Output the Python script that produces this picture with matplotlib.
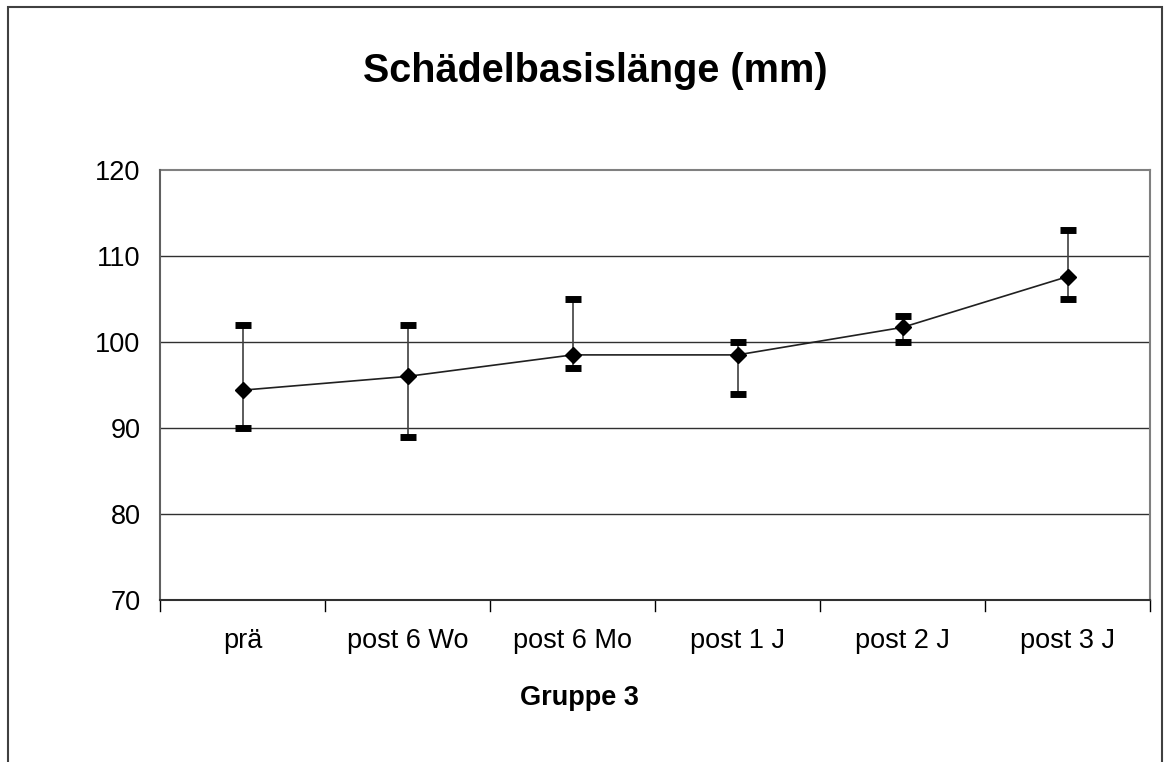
import matplotlib.pyplot as plt
from matplotlib.patches import Rectangle

categories = ["prä", "post 6 Wo", "post 6 Mo", "post 1 J", "post 2 J", "post 3 J"]
mean_vals = [94.4, 96.0, 98.5, 98.5, 101.7, 107.6]
min_vals = [90, 89, 97, 94, 100, 105]
max_vals = [102, 102, 105, 100, 103, 113]

plt.rcParams['font.family'] = ['Liberation Sans', 'DejaVu Sans']

W, H = 1170, 762
fig = plt.figure(figsize=(W / 100, H / 100), dpi=100)
fig.patch.set_facecolor("white")

# outer chart frame
fig.patches.append(Rectangle((8 / W, -0.05), (1162 - 8) / W, 1.05 - 7 / H,
                             transform=fig.transFigure, fill=False,
                             edgecolor="#404040", linewidth=1.5))

ax = fig.add_axes([160 / W, 1 - 600 / H, (1150 - 160) / W, (600 - 170) / H])

x = list(range(len(categories)))
lower = [m - lo for m, lo in zip(mean_vals, min_vals)]
upper = [hi - m for m, hi in zip(mean_vals, max_vals)]

ax.errorbar(x, mean_vals, yerr=[lower, upper], fmt="none", ecolor="#404040",
            elinewidth=1.2, capsize=0, zorder=3)
# thick black caps at min / max
ax.plot(x, min_vals, linestyle="none", marker="_", markersize=11.5,
        markeredgewidth=5, color="black", zorder=3)
ax.plot(x, max_vals, linestyle="none", marker="_", markersize=11.5,
        markeredgewidth=5, color="black", zorder=3)
ax.plot(x, mean_vals, color="#202020", lw=1.2, marker="D", markersize=8,
        markerfacecolor="black", markeredgecolor="black", zorder=4)

ax.set_xlim(-0.5, len(categories) - 0.5)
ax.set_ylim(70, 120)
ax.set_yticks([70, 80, 90, 100, 110, 120])
ax.set_xticks(x)
ax.set_xticklabels(categories, fontsize=19.5)
ax.tick_params(axis="y", labelsize=19.5, length=0, pad=14)
ax.tick_params(axis="x", length=0, pad=20)
for xt in [i - 0.5 for i in range(len(categories) + 1)]:
    ax.axvline(xt, ymin=-0.025, ymax=0.0, color="black", lw=1, clip_on=False)

for yv in [80, 90, 100, 110]:
    ax.axhline(yv, color="#303030", lw=1, zorder=1)

for side in ["top", "right"]:
    ax.spines[side].set_visible(False)
ax.spines["left"].set_color("#606060")
ax.spines["left"].set_linewidth(1.5)
ax.spines["bottom"].set_color("#303030")
ax.spines["bottom"].set_linewidth(1.5)
ax.plot([0, 1], [1, 1], transform=ax.transAxes, color="#808080", lw=1.5, clip_on=False)
ax.plot([1, 1], [0, 1], transform=ax.transAxes, color="#808080", lw=1.5, clip_on=False)

fig.text(595 / W, 1 - 71 / H, "Schädelbasislänge (mm)", ha="center", va="center",
         fontsize=28.5, fontweight="bold")
fig.text(579 / W, 1 - 698 / H, "Gruppe 3", ha="center", va="center",
         fontsize=19.5, fontweight="bold")

fig.savefig("out.png", dpi=100, facecolor="white")
